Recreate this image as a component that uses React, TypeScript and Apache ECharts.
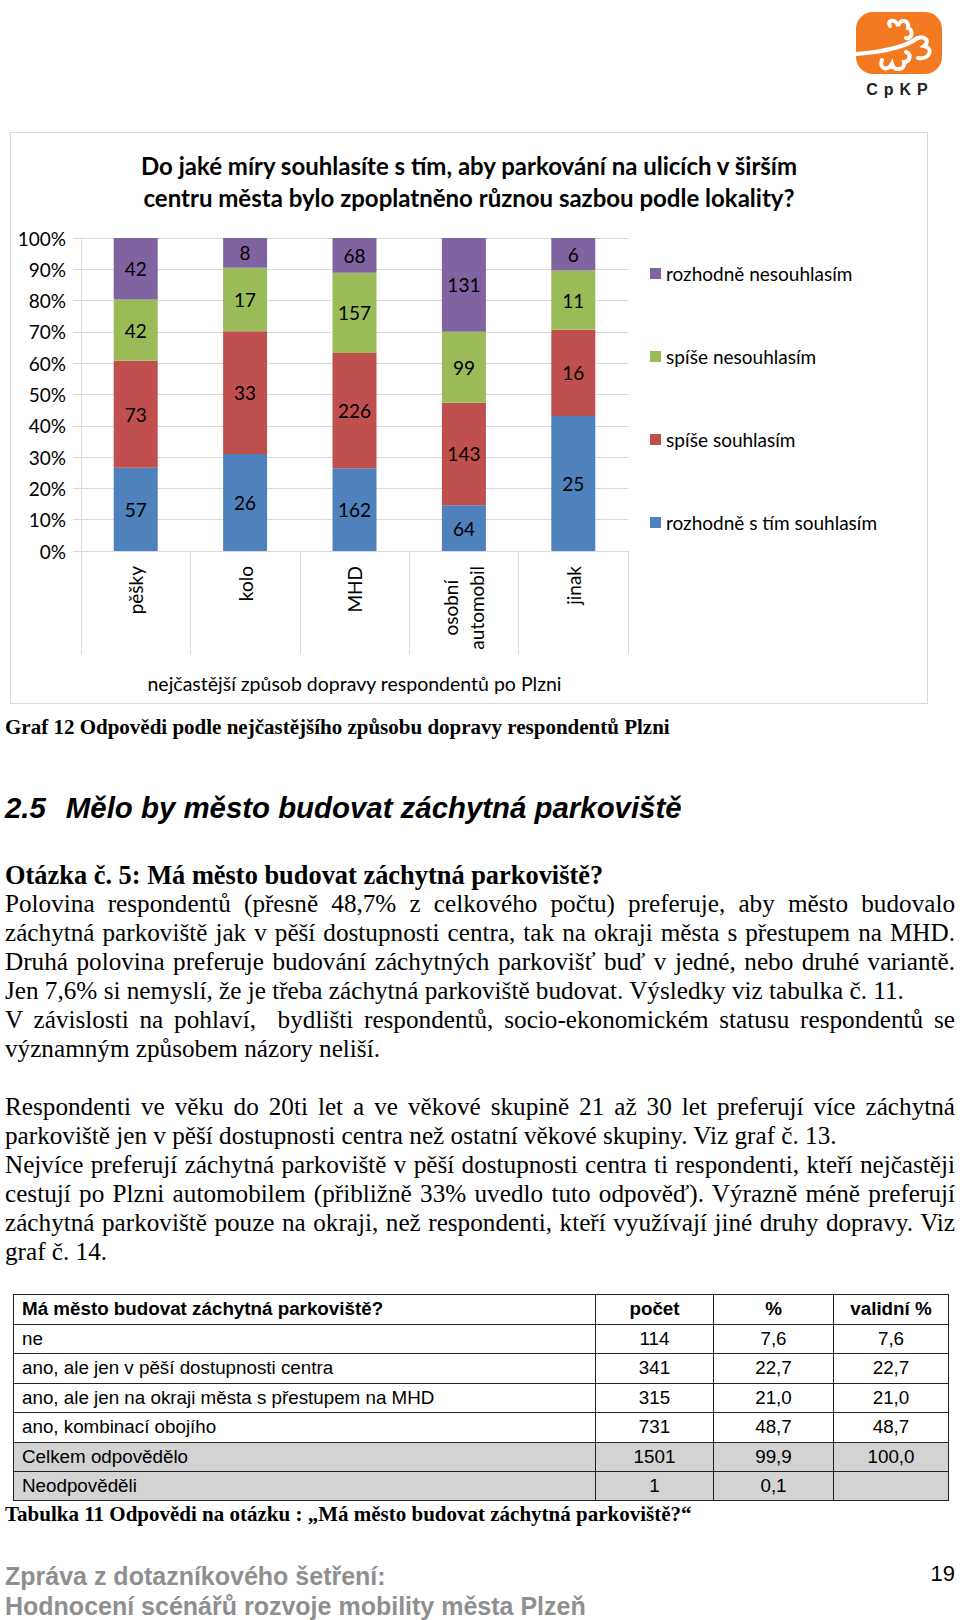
import React, { useEffect, useRef } from "react";
import * as echarts from "echarts";

// ---------- chart data ----------
const categories = ["pěšky", "kolo", "MHD", "osobní\nautomobil", "jinak"];
const seriesNames = [
  "rozhodně s tím souhlasím",
  "spíše souhlasím",
  "spíše nesouhlasím",
  "rozhodně nesouhlasím",
];
const rozhodneSouhlasim = [57, 26, 162, 64, 25];
const spiseSouhlasim = [73, 33, 226, 143, 16];
const spiseNesouhlasim = [42, 17, 157, 99, 11];
const rozhodneNesouhlasim = [42, 8, 68, 131, 6];
const seriesColors = ["#4F81BD", "#C0504D", "#9BBB59", "#8064A2"];
const legendOrder = [
  "rozhodně nesouhlasím",
  "spíše nesouhlasím",
  "spíše souhlasím",
  "rozhodně s tím souhlasím",
];
const titleLines = [
  "Do jaké míry souhlasíte s tím, aby parkování na ulicích v širším",
  "centru města bylo zpoplatněno různou sazbou podle lokality?",
];
const xAxisName = "nejčastější způsob dopravy respondentů po Plzni";

// ---------- table data ----------
const tableHeader = ["Má město budovat záchytná parkoviště?", "počet", "%", "validní %"];
const tableLabels = [
  "ne",
  "ano, ale jen v pěší dostupnosti centra",
  "ano, ale jen na okraji města s přestupem na MHD",
  "ano, kombinací obojího",
  "Celkem odpovědělo",
  "Neodpověděli",
];
const tableCounts = ["114", "341", "315", "731", "1501", "1"];
const tablePercents = ["7,6", "22,7", "21,0", "48,7", "99,9", "0,1"];
const tableValid = ["7,6", "22,7", "21,0", "48,7", "100,0", ""];

// ---------- text ----------
const para1 = [
  { t: "Polovina respondentů (přesně 48,7% z celkového počtu) preferuje, aby město budovalo", j: true },
  { t: "záchytná parkoviště jak v pěší dostupnosti centra, tak na okraji města s přestupem na MHD.", j: true },
  { t: "Druhá polovina preferuje budování záchytných parkovišť buď v jedné, nebo druhé variantě.", j: true },
  { t: "Jen 7,6% si nemyslí, že je třeba záchytná parkoviště budovat. Výsledky viz tabulka č. 11.", j: false },
  { t: "V závislosti na pohlaví,  bydlišti respondentů, socio-ekonomickém statusu respondentů se", j: true },
  { t: "významným způsobem názory neliší.", j: false },
];
const para2 = [
  { t: "Respondenti ve věku do 20ti let a ve věkové skupině 21 až 30 let preferují více záchytná", j: true },
  { t: "parkoviště jen v pěší dostupnosti centra než ostatní věkové skupiny. Viz graf č. 13.", j: false },
  { t: "Nejvíce preferují záchytná parkoviště v pěší dostupnosti centra ti respondenti, kteří nejčastěji", j: true },
  { t: "cestují po Plzni automobilem (přibližně 33% uvedlo tuto odpověď). Výrazně méně preferují", j: true },
  { t: "záchytná parkoviště pouze na okraji, než respondenti, kteří využívají jiné druhy dopravy. Viz", j: true },
  { t: "graf č. 14.", j: false },
];
const para1Y = [904, 933, 962, 991, 1020, 1049];
const para2Y = [1107, 1136, 1165, 1194, 1222.5, 1251.5];

const serif = "'Liberation Serif', 'Times New Roman', serif";
const sans = "'Liberation Sans', Arial, sans-serif";
const cal = "Lato, 'Open Sans', sans-serif";

function Chart() {
  const ref = useRef<HTMLDivElement>(null);
  useEffect(() => {
    if (!ref.current) return;
    const chart = echarts.init(ref.current, undefined, { renderer: "svg" });
    const raw = [rozhodneSouhlasim, spiseSouhlasim, spiseNesouhlasim, rozhodneNesouhlasim];
    const totals = categories.map((_, i) => raw.reduce((s, arr) => s + arr[i], 0));
    const series = raw.map((arr, si) => ({
      name: seriesNames[si],
      type: "bar",
      stack: "total",
      barWidth: 44,
      itemStyle: { color: seriesColors[si] },
      label: {
        show: true,
        position: "inside",
        color: "#000",
        fontFamily: cal,
        fontSize: 19,
        formatter: (p: any) => String(p.data.raw),
      },
      data: arr.map((v, i) => ({ value: (v / totals[i]) * 100, raw: v })),
    }));
    chart.setOption({
      animation: false,
      graphic: [
        {
          type: "text",
          left: "center",
          top: 17,
          style: {
            text: titleLines.join("\n"),
            textAlign: "center",
            fontFamily: cal,
            fontWeight: "bold",
            fontSize: 24,
            lineHeight: 32,
            fill: "#000",
          },
        },
      ],
      legend: {
        orient: "vertical",
        left: 635,
        top: 127,
        itemWidth: 11,
        itemHeight: 11,
        itemGap: 64,
        icon: "rect",
        data: legendOrder,
        textStyle: { fontFamily: cal, fontSize: 19, color: "#000" },
      },
      grid: { left: 71, top: 106, width: 547, height: 313 },
      xAxis: {
        type: "category",
        data: categories,
        axisLine: { lineStyle: { color: "#d9d9d9" } },
        axisTick: { show: true, interval: 0, length: 103, lineStyle: { color: "#d9d9d9" } },
        axisLabel: {
          interval: 0,
          rotate: 90,
          margin: 15,
          color: "#000",
          fontFamily: cal,
          fontSize: 19,
          lineHeight: 26,
          formatter: (v: string) =>
            v.indexOf("\n") >= 0
              ? v
                  .split("\n")
                  .map((s) => "{c|" + s + "}")
                  .join("\n")
              : v,
          rich: {
            c: { align: "center", fontFamily: cal, fontSize: 19, lineHeight: 26, color: "#000" },
          },
        },
        name: xAxisName,
        nameLocation: "middle",
        nameGap: 122,
        nameTextStyle: { fontFamily: cal, fontSize: 19.5, color: "#000" },
      },
      yAxis: {
        type: "value",
        min: 0,
        max: 100,
        interval: 10,
        axisLine: { show: true, lineStyle: { color: "#d9d9d9" } },
        axisTick: { show: true, length: 8, lineStyle: { color: "#d9d9d9" } },
        splitLine: { lineStyle: { color: "#d9d9d9" } },
        axisLabel: {
          formatter: "{value}%",
          margin: 15,
          color: "#000",
          fontFamily: cal,
          fontSize: 19,
        },
      },
      series,
    });
    return () => chart.dispose();
  }, []);
  return (
    <div
      ref={ref}
      style={{ position: "absolute", left: 10, top: 132, width: 918, height: 572 }}
    />
  );
}

function TextLine({ y, text, justify, style }: any) {
  return (
    <div
      style={{
        position: "absolute",
        left: 5,
        width: 950,
        top: y - 15,
        height: 30,
        lineHeight: "30px",
        fontFamily: serif,
        fontSize: 25.2,
        color: "#000",
        whiteSpace: "pre",
        textAlign: justify ? "justify" : "left",
        textAlignLast: justify ? "justify" : "left",
        ...style,
      }}
    >
      {text}
    </div>
  );
}

function Table() {
  const colX = [13, 595, 713, 833, 949];
  const rowY = [1294, 1323.5, 1353, 1382.5, 1412, 1441.5, 1471, 1500.5];
  const rows = [
    tableHeader,
    ...tableLabels.map((l, i) => [l, tableCounts[i], tablePercents[i], tableValid[i]]),
  ];
  const cells: any[] = [];
  rows.forEach((row, r) => {
    row.forEach((txt, c) => {
      const grey = r >= 5;
      cells.push(
        <div
          key={r + "-" + c}
          style={{
            position: "absolute",
            left: colX[c],
            top: rowY[r],
            width: colX[c + 1] - colX[c],
            height: rowY[r + 1] - rowY[r],
            boxSizing: "border-box",
            borderLeft: "1.5px solid #222",
            borderTop: "1.5px solid #222",
            borderRight: c === 3 ? "1.5px solid #222" : undefined,
            borderBottom: r === rows.length - 1 ? "1.5px solid #222" : undefined,
            background: grey ? "#d3d3d3" : "#fff",
            fontFamily: sans,
            fontSize: 18.8,
            fontWeight: r === 0 ? "bold" : "normal",
            lineHeight: rowY[r + 1] - rowY[r] - 2 + "px",
            textAlign: c === 0 ? "left" : "center",
            paddingLeft: c === 0 ? 8 : 0,
            whiteSpace: "nowrap",
            color: "#000",
          }}
        >
          {txt}
        </div>
      );
    });
  });
  return <>{cells}</>;
}

function Logo() {
  return (
    <svg
      style={{ position: "absolute", left: 852, top: 8, width: 96, height: 92 }}
      viewBox="0 0 96 92"
    >
      <rect x="4" y="4" width="86" height="62" rx="17" fill="#F47A22" />
      <path
        d="M4 46 C30 44 52 40 66 30"
        stroke="#fff"
        strokeWidth="4"
        fill="none"
        strokeLinecap="round"
      />
      <path
        d="M38 18 C34 12 44 10 46 18 C48 10 58 12 56 20 C62 22 60 32 54 30"
        stroke="#fff"
        strokeWidth="4"
        fill="none"
        strokeLinecap="round"
      />
      <path
        d="M62 32 C70 26 80 32 72 38 C82 40 78 52 66 50"
        stroke="#fff"
        strokeWidth="4"
        fill="none"
        strokeLinecap="round"
      />
      <path
        d="M30 52 C26 60 36 64 40 56 C42 64 54 62 52 54 C58 54 60 46 54 44"
        stroke="#fff"
        strokeWidth="4"
        fill="none"
        strokeLinecap="round"
      />
      <text
        x="48"
        y="87"
        textAnchor="middle"
        fontFamily={sans}
        fontSize="16"
        fontWeight="bold"
        letterSpacing="6"
        fill="#222"
      >
        CpKP
      </text>
    </svg>
  );
}

export default function App() {
  return (
    <div
      style={{
        position: "absolute",
        left: 0,
        top: 0,
        width: 960,
        height: 1620,
        background: "#fff",
        overflow: "hidden",
      }}
    >
      <Logo />
      <div
        style={{
          position: "absolute",
          left: 10,
          top: 132,
          width: 918,
          height: 572,
          boxSizing: "border-box",
          border: "1px solid #d9d9d9",
        }}
      />
      <Chart />
      <TextLine
        y={727}
        text="Graf 12 Odpovědi podle nejčastějšího způsobu dopravy respondentů Plzni"
        style={{ fontSize: 21, fontWeight: "bold" }}
      />
      <div
        style={{
          position: "absolute",
          left: 5,
          top: 791,
          height: 34,
          lineHeight: "34px",
          fontFamily: sans,
          fontSize: 29.4,
          fontWeight: "bold",
          fontStyle: "italic",
          whiteSpace: "pre",
        }}
      >
        <span>2.5</span>
        <span style={{ marginLeft: 20 }}>Mělo by město budovat záchytná parkoviště</span>
      </div>
      <TextLine
        y={875}
        text="Otázka č. 5: Má město budovat záchytná parkoviště?"
        style={{ fontWeight: "bold", fontSize: 26.4 }}
      />
      {para1.map((l, i) => (
        <TextLine key={"a" + i} y={para1Y[i]} text={l.t} justify={l.j} />
      ))}
      {para2.map((l, i) => (
        <TextLine key={"b" + i} y={para2Y[i]} text={l.t} justify={l.j} />
      ))}
      <Table />
      <TextLine
        y={1514}
        text="Tabulka 11 Odpovědi na otázku : „Má město budovat záchytná parkoviště?“"
        style={{ fontSize: 21, fontWeight: "bold" }}
      />
      <TextLine
        y={1576}
        text="Zpráva z dotazníkového šetření:"
        style={{ fontFamily: sans, fontSize: 25, fontWeight: "bold", color: "#8f8f8f" }}
      />
      <TextLine
        y={1606}
        text="Hodnocení scénářů rozvoje mobility města Plzeň"
        style={{ fontFamily: sans, fontSize: 25, fontWeight: "bold", color: "#8f8f8f" }}
      />
      <div
        style={{
          position: "absolute",
          right: 5,
          top: 1561,
          lineHeight: "26px",
          fontFamily: sans,
          fontSize: 22,
          color: "#000",
        }}
      >
        19
      </div>
    </div>
  );
}
